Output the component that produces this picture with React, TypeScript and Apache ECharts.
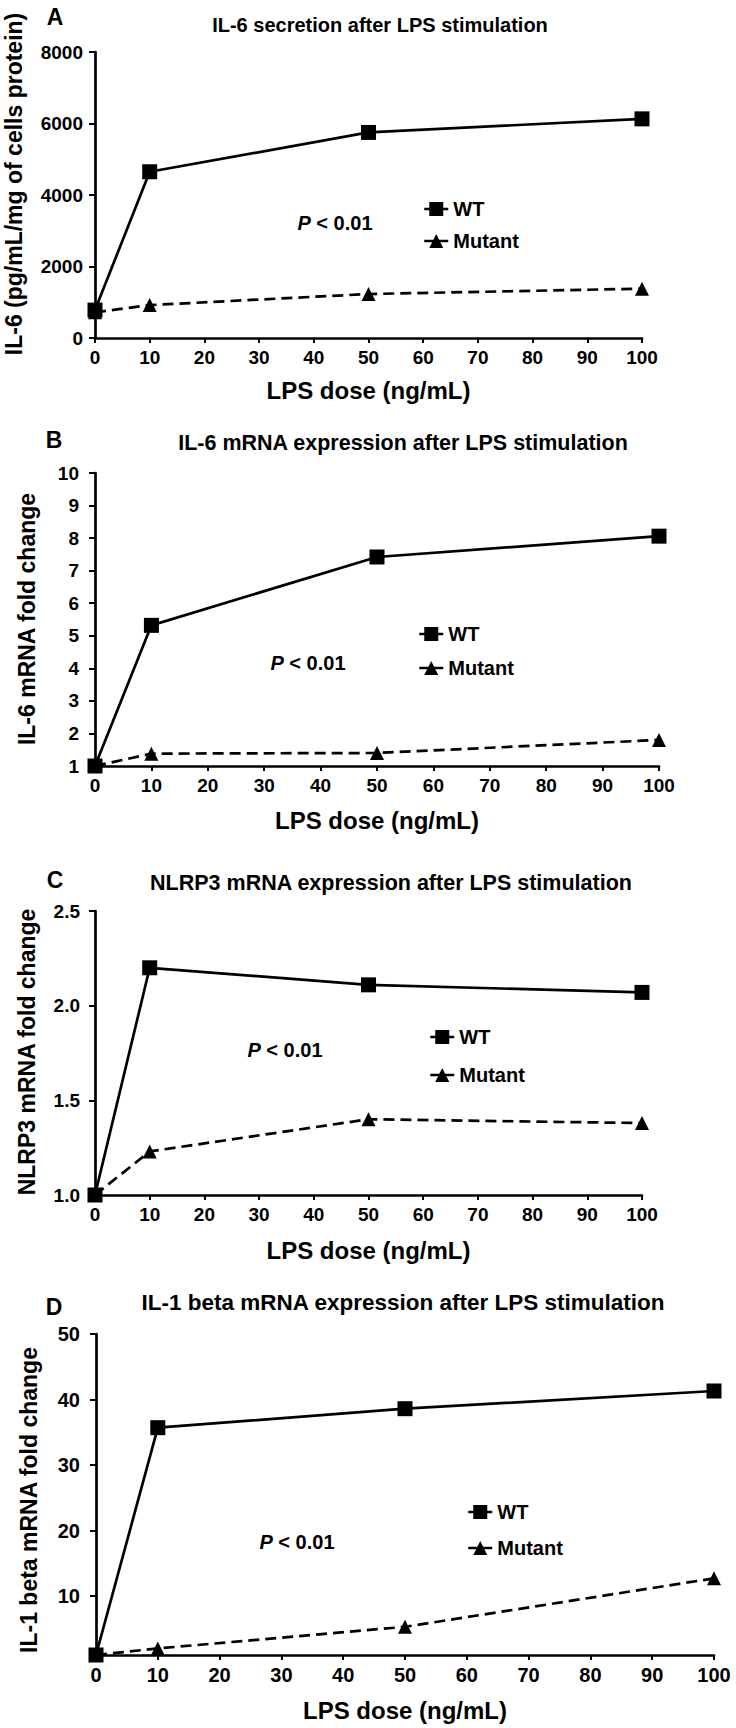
import React, { useEffect, useRef } from "react";
import * as echarts from "echarts";

// ---- data ----
const doses = [0, 10, 50, 100];
const seriesNames = ["WT", "Mutant"];
const il6SecretionWT = [780, 4650, 5750, 6130];
const il6SecretionMutant = [720, 920, 1230, 1380];
const il6MrnaWT = [1.0, 5.32, 7.42, 8.06];
const il6MrnaMutant = [1.0, 1.38, 1.4, 1.8];
const nlrp3WT = [1.0, 2.2, 2.11, 2.07];
const nlrp3Mutant = [1.0, 1.23, 1.4, 1.38];
const il1bWT = [1.0, 35.7, 38.6, 41.3];
const il1bMutant = [1.0, 2.0, 5.3, 12.7];
const il1bYTickLabels = [10, 20, 30, 40, 50];
const panelLetters = ["A", "B", "C", "D"];
const panelTitles = [
  "IL-6 secretion after LPS stimulation",
  "IL-6 mRNA expression after LPS stimulation",
  "NLRP3 mRNA expression after LPS stimulation",
  "IL-1 beta mRNA expression after LPS stimulation",
];
const yAxisNames = [
  "IL-6 (pg/mL/mg of cells protein)",
  "IL-6 mRNA fold change",
  "NLRP3 mRNA fold change",
  "IL-1 beta mRNA fold change",
];
const xAxisName = "LPS dose (ng/mL)";
const pValueText = "< 0.01";

const panelData = [
  [il6SecretionWT, il6SecretionMutant],
  [il6MrnaWT, il6MrnaMutant],
  [nlrp3WT, nlrp3Mutant],
  [il1bWT, il1bMutant],
];

// ---- layout (positions / styles) ----
const FONT = '"Liberation Sans", Arial, Helvetica, sans-serif';
const layout = [
  { left: 95, top: 52, width: 547, height: 286, letter: [55, 17], title: [380, 25], titleSize: 20, p: [335, 223], legend: [430, 204, 32], labelMargin: 12, labelSize: 19, xGap: 40, yName: [14, 184] },
  { left: 95, top: 473, width: 564, height: 293, letter: [54, 440], title: [403, 443], titleSize: 21.5, p: [308, 663], legend: [425, 629, 34], labelMargin: 16, labelSize: 19, xGap: 42, yName: [27, 619] },
  { left: 95, top: 911, width: 547, height: 284, letter: [55, 880], title: [391, 883], titleSize: 21.5, p: [285, 1050], legend: [436, 1032, 38], labelMargin: 15, labelSize: 19, xGap: 43, yName: [27, 1052] },
  { left: 96, top: 1334, width: 618, height: 321, letter: [54, 1307], title: [403, 1302], titleSize: 22.5, p: [297, 1542], legend: [474, 1507, 36], labelMargin: 16, labelSize: 20, xGap: 43, yName: [29, 1500] },
];

const yRanges: any[] = [
  { min: 0, max: 8000, interval: 2000, fmt: (v: number) => String(v) },
  { min: 1, max: 10, interval: 1 },
  { min: 1, max: 2.5, interval: 0.5, fmt: (v: number) => v.toFixed(1) },
  { min: 1, max: 50, custom: il1bYTickLabels },
];

export default function App() {
  const ref = useRef<HTMLDivElement>(null);

  useEffect(() => {
    if (!ref.current) return;
    const chart = echarts.init(ref.current, undefined, { renderer: "svg" });

    const axisLine = { lineStyle: { color: "#000", width: 2.7 } };
    const grids = layout.map((l) => ({ left: l.left, top: l.top, width: l.width, height: l.height, containLabel: false }));

    const xAxes = layout.map((l, i) => ({
      type: "value",
      gridIndex: i,
      min: 0,
      max: 100,
      interval: 10,
      name: xAxisName,
      nameLocation: "middle",
      nameGap: l.xGap,
      nameTextStyle: { fontFamily: FONT, fontWeight: "bold", fontSize: 24, color: "#000" },
      axisLine,
      axisTick: { length: 5, lineStyle: { color: "#000", width: 2 } },
      axisLabel: { margin: 10, fontFamily: FONT, fontWeight: "bold", fontSize: l.labelSize, color: "#000" },
      splitLine: { show: false },
    }));

    const yAxes = layout.map((l, i) => {
      const r = yRanges[i];
      const ax: any = {
        type: "value",
        gridIndex: i,
        min: r.min,
        max: r.max,
        axisLine,
        axisTick: { length: 6, lineStyle: { color: "#000", width: 2 } },
        axisLabel: { margin: l.labelMargin, fontFamily: FONT, fontWeight: "bold", fontSize: l.labelSize, color: "#000" },
        splitLine: { show: false },
      };
      if (r.interval) ax.interval = r.interval;
      if (r.fmt) ax.axisLabel.formatter = r.fmt;
      if (r.custom) {
        ax.axisLabel.customValues = r.custom;
        ax.axisTick.customValues = r.custom;
      }
      return ax;
    });

    const series: any[] = [];
    panelData.forEach((pair, gi) => {
      // mutant first so WT sits on top
      [1, 0].forEach((si) => {
        const solid = si === 0;
        series.push({
          type: "line",
          name: seriesNames[si],
          xAxisIndex: gi,
          yAxisIndex: gi,
          data: doses.map((d, k) => [d, pair[si][k]]),
          symbol: solid ? "rect" : "triangle",
          symbolSize: solid ? 15 : 14,
          itemStyle: { color: "#000" },
          lineStyle: { color: "#000", width: solid ? 2.7 : 2.7, type: solid ? "solid" : [11, 6] },
          clip: false,
          silent: true,
          z: solid ? 4 : 3,
        });
      });
    });

    const legends = layout.map((l) => {
      const itemH = 17.5;
      const textH = 20;
      const w = 24;
      return {
        orient: "vertical",
        left: l.legend[0] - w / 2,
        top: l.legend[1] - textH / 2,
        itemWidth: w,
        itemHeight: itemH,
        itemGap: l.legend[2] - textH,
        data: seriesNames,
        selectedMode: false,
        lineStyle: { type: "solid", width: 2.5 },
        textStyle: { fontFamily: FONT, fontWeight: "bold", fontSize: 20, color: "#000", padding: [0, 0, 0, 0] },
      };
    });

    const graphics: any[] = [];
    layout.forEach((l, i) => {
      graphics.push({
        type: "text",
        x: l.letter[0],
        y: l.letter[1],
        style: { text: panelLetters[i], fontFamily: FONT, fontWeight: "bold", fontSize: 23, fill: "#000", align: "center", verticalAlign: "middle" },
      });
      graphics.push({
        type: "text",
        x: l.title[0],
        y: l.title[1],
        style: { text: panelTitles[i], fontFamily: FONT, fontWeight: "bold", fontSize: l.titleSize, fill: "#000", align: "center", verticalAlign: "middle" },
      });
      graphics.push({
        type: "text",
        x: l.yName[0],
        y: l.yName[1],
        rotation: Math.PI / 2,
        style: { text: yAxisNames[i], fontFamily: FONT, fontWeight: "bold", fontSize: 23, fill: "#000", align: "center", verticalAlign: "middle" },
      });
      graphics.push({
        type: "text",
        x: l.p[0],
        y: l.p[1],
        style: {
          text: "{i|P} " + pValueText,
          fontFamily: FONT,
          fontWeight: "bold",
          fontSize: 20,
          fill: "#000",
          align: "center",
          verticalAlign: "middle",
          rich: { i: { fontFamily: FONT, fontWeight: "bold", fontStyle: "italic", fontSize: 20, fill: "#000" } },
        },
      });
    });

    chart.setOption({
      animation: false,
      backgroundColor: "#fff",
      grid: grids,
      xAxis: xAxes,
      yAxis: yAxes,
      legend: legends,
      series,
      graphic: graphics,
    });

    return () => chart.dispose();
  }, []);

  return (
    <div
      ref={ref}
      style={{ position: "absolute", left: 0, top: 0, width: 736, height: 1728, background: "#fff" }}
    />
  );
}
